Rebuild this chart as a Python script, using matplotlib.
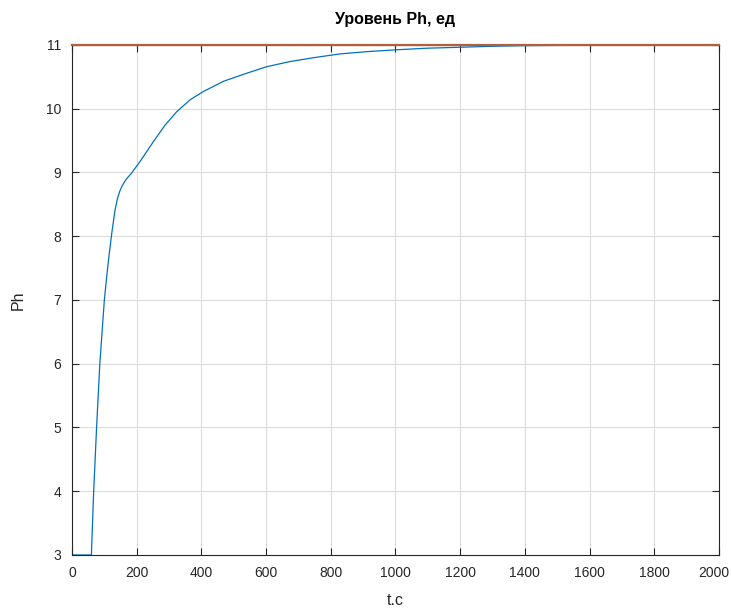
import numpy as np
import matplotlib
matplotlib.use('Agg')
import matplotlib.pyplot as plt
from matplotlib.transforms import ScaledTranslation

plt.rcParams['font.family'] = ['Liberation Sans', 'DejaVu Sans']

# Response of the level Ph
t = [0, 60, 62, 67, 76, 86, 100, 108, 115, 123, 133, 141, 148, 155, 163,
     172, 184, 197, 210, 226, 251, 288, 324, 365, 406, 468, 530, 602, 674,
     746, 828, 910, 1003, 1100, 1203, 1300, 1400, 1600, 1800, 2000]
ph = [3, 3, 3.3, 4, 5, 6, 7, 7.4, 7.72, 8.05, 8.41, 8.6, 8.71, 8.79, 8.86,
      8.92, 8.99, 9.08, 9.17, 9.29, 9.48, 9.745, 9.955, 10.14, 10.27, 10.43,
      10.54, 10.66, 10.74, 10.80, 10.86, 10.895, 10.925, 10.95, 10.965,
      10.98, 10.99, 10.997, 11.0, 11.0]

# Setpoint
t_ref = [0, 2000]
ph_ref = [11, 11]

x_ticks = np.arange(0, 2001, 200)
y_ticks = np.arange(3, 12, 1)

fig = plt.figure(figsize=(7.31, 6.08), dpi=100)
ax = fig.add_axes([0.0985, 0.0872, 0.885, 0.8388])

ax.plot(t, ph, color='#0072BD', lw=0.9)
ax.plot(t_ref, ph_ref, color='#B0603F', lw=1.6, clip_on=False, zorder=5)

ax.set_xlim(0, 2000)
ax.set_ylim(3, 11)
ax.set_xticks(x_ticks)
ax.set_yticks(y_ticks)

ax.grid(True, color='#DCDCDC', lw=0.8)
ax.set_axisbelow(True)
ax.tick_params(direction='in', top=True, right=True, length=5, width=0.8,
               colors='#262626', labelsize=10, pad=8)
for s in ax.spines.values():
    s.set_color('#262626')
    s.set_linewidth(0.8)

# nudge the last x label so it stays inside the figure
last = ax.get_xticklabels()[-1]
last.set_transform(last.get_transform() +
                   ScaledTranslation(-5 / 100, 0, fig.dpi_scale_trans))

ax.set_title('Уровень Ph, ед', fontsize=11.5, fontweight='bold', pad=15)
ax.set_xlabel('t.c', fontsize=11.5, color='#262626', labelpad=9)
ax.set_ylabel('Ph', fontsize=11.5, color='#262626', labelpad=14)

fig.savefig('out.png', dpi=100)
